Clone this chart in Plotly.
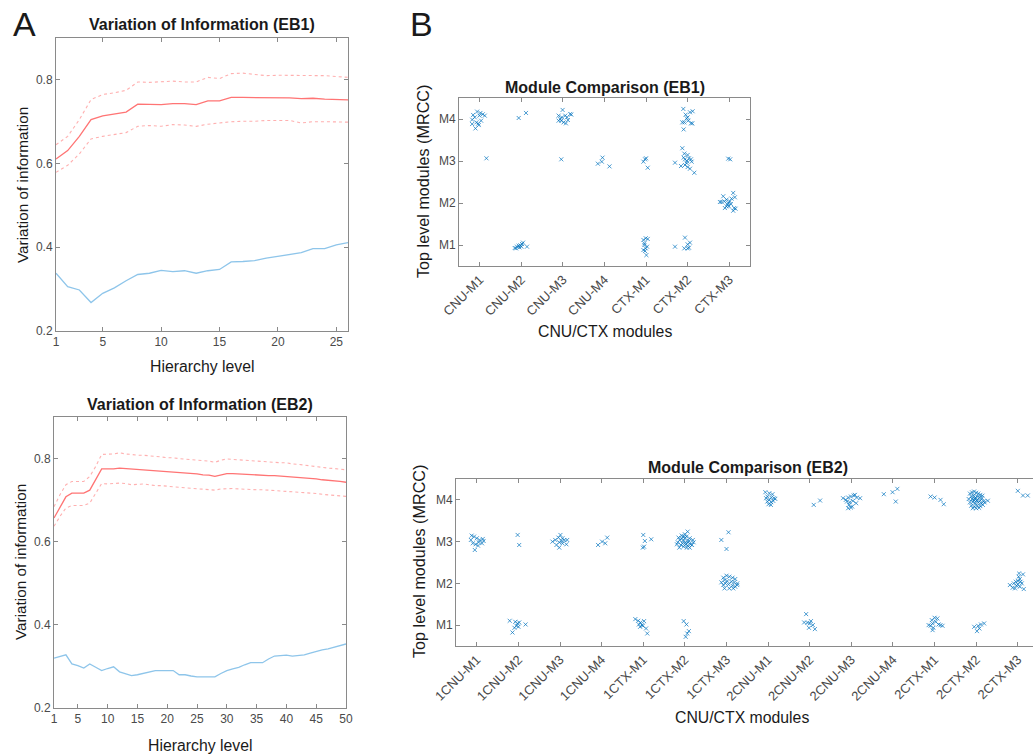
import plotly.graph_objects as go

W, H = 1033, 755

# ---------------- Panel A data ----------------
levels_eb1 = list(range(1, 27))
vi_mean_eb1 = [0.611, 0.631, 0.665, 0.705, 0.714, 0.718, 0.723, 0.742, 0.742, 0.741, 0.743, 0.743, 0.741,
               0.750, 0.750, 0.758, 0.758, 0.758, 0.757, 0.757, 0.757, 0.755, 0.756, 0.754, 0.753, 0.752]
vi_upper_eb1 = [0.645, 0.665, 0.705, 0.753, 0.765, 0.769, 0.775, 0.795, 0.794, 0.796, 0.797, 0.795, 0.795,
                0.806, 0.803, 0.815, 0.816, 0.813, 0.810, 0.811, 0.811, 0.811, 0.811, 0.810, 0.808, 0.806]
vi_lower_eb1 = [0.579, 0.596, 0.623, 0.659, 0.665, 0.670, 0.674, 0.689, 0.691, 0.689, 0.693, 0.692, 0.689,
                0.694, 0.697, 0.700, 0.701, 0.701, 0.703, 0.703, 0.703, 0.697, 0.700, 0.700, 0.699, 0.699]
vi_between_eb1 = [0.338, 0.306, 0.298, 0.268, 0.290, 0.303, 0.320, 0.335, 0.338, 0.345, 0.342, 0.344, 0.338,
                  0.344, 0.347, 0.365, 0.366, 0.368, 0.374, 0.378, 0.383, 0.387, 0.397, 0.397, 0.406, 0.411]

levels_eb2 = list(range(1, 51))
vi_mean_eb2 = [0.657, 0.681, 0.708, 0.717, 0.717, 0.717, 0.724, 0.749, 0.775, 0.775, 0.775, 0.777, 0.776,
               0.774, 0.773, 0.773, 0.772, 0.771, 0.769, 0.768, 0.767, 0.766, 0.766, 0.765, 0.763, 0.761,
               0.760, 0.757, 0.761, 0.764, 0.764, 0.763, 0.762, 0.761, 0.761, 0.760, 0.759, 0.759, 0.758,
               0.757, 0.756, 0.754, 0.753, 0.752, 0.751, 0.749, 0.748, 0.746, 0.745, 0.743]
vi_upper_eb2 = [0.684, 0.713, 0.737, 0.745, 0.745, 0.745, 0.757, 0.781, 0.810, 0.811, 0.811, 0.814, 0.811,
                0.810, 0.808, 0.808, 0.807, 0.806, 0.804, 0.802, 0.802, 0.800, 0.799, 0.798, 0.796, 0.795,
                0.794, 0.791, 0.796, 0.799, 0.798, 0.796, 0.795, 0.794, 0.793, 0.792, 0.791, 0.791, 0.790,
                0.790, 0.787, 0.786, 0.784, 0.783, 0.781, 0.778, 0.777, 0.776, 0.775, 0.773]
vi_lower_eb2 = [0.637, 0.661, 0.681, 0.687, 0.687, 0.687, 0.693, 0.716, 0.740, 0.739, 0.740, 0.741, 0.740,
                0.737, 0.738, 0.739, 0.737, 0.735, 0.735, 0.733, 0.732, 0.731, 0.730, 0.729, 0.728, 0.727,
                0.725, 0.724, 0.727, 0.728, 0.728, 0.727, 0.726, 0.725, 0.725, 0.725, 0.724, 0.724, 0.723,
                0.722, 0.720, 0.719, 0.718, 0.717, 0.716, 0.714, 0.713, 0.712, 0.711, 0.709]
vi_between_eb2 = [0.320, 0.324, 0.328, 0.306, 0.302, 0.296, 0.306, 0.298, 0.290, 0.295, 0.299, 0.287, 0.282,
                  0.278, 0.280, 0.283, 0.287, 0.290, 0.290, 0.290, 0.290, 0.280, 0.280, 0.277, 0.275, 0.275,
                  0.275, 0.275, 0.283, 0.290, 0.294, 0.298, 0.304, 0.309, 0.309, 0.309, 0.318, 0.325, 0.326,
                  0.327, 0.325, 0.327, 0.328, 0.332, 0.336, 0.340, 0.342, 0.346, 0.351, 0.354]

# ---------------- Panel B data ----------------
module_labels = ["M1", "M2", "M3", "M4"]
cats_eb1 = ["CNU-M1", "CNU-M2", "CNU-M3", "CNU-M4", "CTX-M1", "CTX-M2", "CTX-M3"]
cats_eb2 = ["1CNU-M1", "1CNU-M2", "1CNU-M3", "1CNU-M4", "1CTX-M1", "1CTX-M2", "1CTX-M3",
            "2CNU-M1", "2CNU-M2", "2CNU-M3", "2CNU-M4", "2CTX-M1", "2CTX-M2", "2CTX-M3"]

# (category index, MRCC module index) -> jittered offsets (dx, dy)
groups_eb1 = {
    (1, 4): [(-0.064, 0.176), (-0.16, 0.096), (0.016, 0.144), (0.072, 0.112), (-0.008, 0.08), (-0.184, -0.016),
             (-0.08, -0.08), (0.032, -0.04), (-0.04, -0.112), (-0.184, -0.12), (-0.104, -0.224), (-0.024, -0.144),
             (0.12, 0.08), (-0.12, 0.04)],
    (1, 3): [(0.16, 0.064)],
    (2, 4): [(-0.064, 0.024), (0.112, 0.144)],
    (2, 1): [(-0.16, -0.072), (-0.104, -0.04), (-0.064, -0.016), (-0.024, -0.008), (0.016, 0.024), (0.04, 0.056),
             (-0.048, -0.056), (0.136, -0.04), (-0.128, -0.08), (0.0, -0.04)],
    (3, 4): [(-0.008, 0.216), (-0.104, 0.08), (-0.064, 0.0), (0.056, 0.08), (0.096, 0.04), (-0.04, -0.04),
             (0.016, -0.08), (0.072, -0.104), (0.176, 0.12), (0.2, 0.104), (-0.104, -0.04), (-0.024, 0.04),
             (0.12, -0.024)],
    (3, 3): [(-0.04, 0.04)],
    (4, 3): [(-0.16, -0.064), (-0.064, -0.016), (-0.048, 0.08), (0.12, -0.128)],
    (5, 3): [(-0.064, -0.016), (-0.024, 0.04), (0.0, 0.064), (0.04, -0.16)],
    (5, 1): [(-0.064, 0.12), (-0.008, 0.16), (0.04, 0.144), (-0.04, 0.0), (-0.008, -0.08), (-0.064, -0.12),
             (-0.024, -0.144), (0.008, -0.24), (0.024, -0.04), (-0.04, 0.04)],
    (6, 4): [(-0.104, 0.24), (-0.048, 0.104), (0.056, 0.16), (0.12, 0.184), (0.0, 0.04), (-0.08, -0.08),
             (0.016, -0.04), (0.08, -0.104), (-0.128, -0.08), (-0.096, -0.248), (-0.024, 0.016), (0.112, -0.104)],
    (6, 3): [(-0.128, 0.304), (-0.08, 0.176), (0.0, 0.144), (0.032, 0.064), (-0.064, 0.04), (-0.016, 0.0),
             (0.08, 0.04), (-0.16, -0.12), (-0.064, -0.096), (0.0, -0.144), (0.056, -0.184), (0.16, -0.28),
             (-0.304, -0.04), (-0.024, -0.048), (0.096, -0.016), (-0.096, 0.08)],
    (6, 1): [(-0.304, -0.04), (-0.064, 0.176), (0.0, 0.016), (0.056, 0.056), (-0.08, -0.08), (0.0, -0.08),
             (0.032, -0.064)],
    (7, 3): [(-0.024, 0.056), (0.024, 0.04)],
    (7, 2): [(-0.184, 0.024), (-0.144, 0.16), (-0.224, 0.024), (-0.064, 0.08), (-0.024, 0.0), (0.016, 0.04),
             (0.056, 0.104), (0.096, 0.24), (0.136, 0.136), (-0.104, -0.12), (-0.04, -0.04), (-0.008, -0.08),
             (0.04, -0.024), (0.12, -0.12), (0.096, -0.184), (0.152, -0.136), (-0.064, -0.08), (-0.12, 0.04)],
}

groups_eb2 = {
    (1, 3): [(-0.124, 0.144), (-0.067, 0.12), (0.0, 0.08), (0.067, 0.04), (0.143, 0.064), (-0.096, -0.04),
             (-0.029, -0.064), (0.048, -0.016), (0.124, -0.04), (-0.048, -0.2), (0.029, -0.096), (-0.143, 0.04),
             (0.163, 0.016)],
    (2, 3): [(-0.019, 0.16), (0.019, -0.08)],
    (2, 1): [(-0.21, 0.104), (-0.076, 0.08), (-0.019, 0.04), (-0.048, -0.016), (-0.096, -0.064), (-0.143, -0.176),
             (0.019, 0.064), (0.172, 0.016), (0.0, -0.04)],
    (3, 3): [(-0.182, 0.0), (-0.115, 0.04), (-0.038, 0.096), (0.01, 0.16), (0.057, 0.08), (0.105, 0.04),
             (0.172, 0.04), (-0.019, -0.016), (0.057, -0.04), (0.153, -0.064), (-0.019, -0.144), (-0.086, -0.08),
             (0.038, 0.016)],
    (4, 3): [(-0.086, -0.08), (0.01, 0.0), (0.086, -0.04), (0.134, 0.096)],
    (5, 3): [(0.0, 0.16), (0.038, 0.016), (0.191, 0.056), (-0.01, -0.144), (0.019, -0.12)],
    (5, 1): [(-0.191, 0.144), (-0.124, 0.104), (-0.067, 0.064), (0.019, 0.096), (-0.029, 0.0), (-0.105, 0.016),
             (0.067, -0.08), (0.096, -0.2), (-0.01, -0.016), (-0.076, -0.04)],
    (6, 3): [(-0.153, 0.096), (-0.076, 0.144), (0.0, 0.176), (0.067, 0.24), (0.038, 0.12), (0.115, 0.08),
             (0.191, 0.04), (0.21, -0.016), (0.134, -0.064), (0.067, -0.096), (-0.029, -0.12), (-0.096, -0.08),
             (-0.172, -0.016), (-0.124, 0.04), (-0.038, 0.016), (0.019, -0.016), (0.096, 0.016), (0.0, 0.08),
             (-0.057, -0.04), (0.048, -0.144), (0.115, -0.144), (0.172, -0.08), (-0.191, -0.064), (0.019, -0.064),
             (-0.019, 0.12), (0.076, -0.016), (-0.134, -0.144), (-0.076, 0.08)],
    (6, 1): [(-0.029, 0.096), (0.038, 0.016), (0.096, -0.144), (0.057, -0.2), (0.019, -0.28)],
    (7, 3): [(-0.124, 0.04), (0.048, 0.224), (0.0, -0.176)],
    (7, 2): [(-0.076, 0.136), (0.0, 0.184), (0.067, 0.16), (0.143, 0.136), (0.21, 0.104), (-0.048, 0.08),
             (0.019, 0.056), (0.115, 0.04), (0.182, 0.024), (0.258, 0.0), (-0.029, 0.0), (0.048, -0.024),
             (-0.076, -0.04), (0.143, -0.056), (0.21, -0.08), (-0.048, -0.12), (0.067, -0.12), (0.258, -0.04),
             (-0.124, 0.024), (0.163, -0.12)],
    (8, 4): [(-0.067, 0.184), (0.029, 0.16), (0.105, 0.136), (-0.019, 0.08), (0.076, 0.056), (0.143, 0.04),
             (0.029, 0.0), (-0.019, -0.04), (0.076, -0.056), (0.124, -0.024), (0.01, -0.104), (0.067, -0.12),
             (-0.048, 0.04), (0.172, 0.024)],
    (9, 4): [(0.096, -0.12), (0.249, -0.016)],
    (9, 1): [(-0.086, 0.264), (-0.134, 0.064), (-0.057, 0.056), (0.029, 0.096), (0.076, 0.0), (-0.019, -0.064),
             (0.124, -0.096), (0.0, 0.04)],
    (10, 4): [(-0.2, 0.04), (-0.076, 0.056), (-0.01, 0.08), (0.057, 0.104), (0.134, 0.056), (0.21, 0.04),
              (-0.105, -0.04), (-0.038, -0.056), (0.038, -0.024), (0.115, -0.08), (-0.057, -0.12), (0.019, -0.16),
              (-0.076, -0.2), (-0.01, -0.184), (0.086, 0.12), (-0.134, 0.0)],
    (11, 4): [(-0.22, 0.136), (-0.01, 0.184), (0.105, 0.264), (0.067, -0.04)],
    (12, 4): [(-0.096, 0.08), (0.0, 0.056), (0.143, 0.0), (0.22, -0.104)],
    (12, 1): [(-0.143, 0.0), (-0.067, 0.12), (0.0, 0.176), (0.067, 0.16), (-0.048, 0.04), (0.029, 0.08),
              (0.096, 0.016), (-0.029, -0.064), (-0.096, -0.016), (0.143, 0.0), (0.191, -0.016), (-0.048, -0.12)],
    (13, 4): [(-0.15, 0.15), (-0.1, 0.18), (-0.05, 0.2), (0.0, 0.17), (0.05, 0.15), (0.1, 0.12), (0.15, 0.1),
              (-0.12, 0.08), (-0.06, 0.1), (0.02, 0.08), (0.08, 0.06), (0.14, 0.04), (-0.18, 0.02), (-0.1, 0.02),
              (-0.03, 0.03), (0.03, 0.0), (0.1, -0.02), (0.18, -0.03), (0.28, -0.02), (-0.15, -0.06),
              (-0.08, -0.05), (-0.02, -0.08), (0.05, -0.06), (0.12, -0.08), (0.2, -0.06), (-0.12, -0.14),
              (-0.05, -0.16), (0.02, -0.14), (0.1, -0.15), (0.16, -0.12), (-0.08, -0.2), (0.0, -0.2),
              (0.07, -0.19), (-0.02, 0.05), (0.01, -0.02), (-0.05, -0.01)],
    (13, 1): [(-0.048, -0.04), (0.048, -0.016), (0.076, -0.08), (0.019, -0.144), (0.191, 0.04), (0.115, 0.016)],
    (14, 4): [(0.0, 0.216), (0.124, 0.104), (0.239, 0.104)],
    (14, 2): [(-0.191, -0.04), (-0.096, 0.0), (-0.048, 0.04), (0.0, 0.056), (0.048, 0.104), (0.029, 0.24),
              (0.124, 0.216), (0.096, 0.0), (-0.029, -0.056), (0.048, -0.08), (-0.067, -0.12), (0.143, -0.136),
              (0.0, -0.024), (-0.124, -0.104), (0.067, 0.04), (0.019, 0.16)],
}

# ---------------- styling ----------------
FONT = "Liberation Sans, Arial, Helvetica, sans-serif"
AXC = "#8a8a8a"
TXC = "#4a4a4a"
RED = "#ff7474"
RED_LIGHT = "#ffb0b0"
BLUE_LINE = "#8ec5ea"
MARK = "rgba(0,114,189,0.7)"


def dom(l, r, t, b):
    # page-pixel box -> figure domain fractions
    return [max(0, l / W), min(1, r / W)], [1 - b / H, 1 - t / H]


fig = go.Figure()


def add_vi(xa, ya, lv, mean, up, lo, bt):
    fig.add_trace(go.Scatter(x=lv, y=up, mode="lines", line=dict(color=RED_LIGHT, width=1.1, dash="dot"),
                             xaxis=xa, yaxis=ya, showlegend=False))
    fig.add_trace(go.Scatter(x=lv, y=lo, mode="lines", line=dict(color=RED_LIGHT, width=1.1, dash="dot"),
                             xaxis=xa, yaxis=ya, showlegend=False))
    fig.add_trace(go.Scatter(x=lv, y=mean, mode="lines", line=dict(color=RED, width=1.3),
                             xaxis=xa, yaxis=ya, showlegend=False))
    fig.add_trace(go.Scatter(x=lv, y=bt, mode="lines", line=dict(color=BLUE_LINE, width=1.3),
                             xaxis=xa, yaxis=ya, showlegend=False))


def add_groups(xa, ya, groups):
    xs, ys = [], []
    for (c, m), pts in groups.items():
        for dx, dy in pts:
            xs.append(c + dx)
            ys.append(m + dy)
    fig.add_trace(go.Scatter(x=xs, y=ys, mode="markers",
                             marker=dict(symbol="x-thin-open", size=4, color=MARK,
                                         line=dict(width=1, color=MARK)),
                             xaxis=xa, yaxis=ya, showlegend=False))


add_vi("x", "y", levels_eb1, vi_mean_eb1, vi_upper_eb1, vi_lower_eb1, vi_between_eb1)
add_vi("x2", "y2", levels_eb2, vi_mean_eb2, vi_upper_eb2, vi_lower_eb2, vi_between_eb2)
add_groups("x3", "y3", groups_eb1)
add_groups("x4", "y4", groups_eb2)

common = dict(showline=True, linecolor=AXC, linewidth=1, ticks="inside", ticklen=4, tickcolor=AXC,
              showgrid=False, zeroline=False, automargin=False,
              tickfont=dict(family=FONT, size=12, color=TXC), fixedrange=True)
rot_font = dict(family=FONT, size=13, color=TXC)

d1x, d1y = dom(56, 348, 38, 331)
d2x, d2y = dom(54, 346, 417, 708)
d3x, d3y = dom(459, 750, 98, 266)
d4x, d4y = dom(456, 1033, 479, 646)

px_per_cat = (1017 - 476) / 13.0
x4max = 0.5 + (1033 - 456) / px_per_cat

fig.update_layout(
    width=W, height=H, margin=dict(l=0, r=0, t=0, b=0, pad=0, autoexpand=False),
    paper_bgcolor="white", plot_bgcolor="white", hovermode=False,
    font=dict(family=FONT, color=TXC),
    xaxis=dict(domain=d1x, anchor="y", range=[1, 26], tickvals=[1, 5, 10, 15, 20, 25], mirror="ticks", **common),
    yaxis=dict(domain=d1y, anchor="x", range=[0.2, 0.9], tickvals=[0.2, 0.4, 0.6, 0.8], tickformat=".1f",
               mirror="ticks", **common),
    xaxis2=dict(domain=d2x, anchor="y2", range=[1, 50], tickvals=[1, 5, 10, 15, 20, 25, 30, 35, 40, 45, 50],
                mirror="ticks", **common),
    yaxis2=dict(domain=d2y, anchor="x2", range=[0.2, 0.9], tickvals=[0.2, 0.4, 0.6, 0.8], tickformat=".1f",
                mirror="ticks", **common),
    xaxis3=dict(domain=d3x, anchor="y3", range=[0.5, 7.5], tickvals=list(range(1, 8)), ticktext=cats_eb1,
                tickangle=-45, mirror="ticks", **common),
    yaxis3=dict(domain=d3y, anchor="x3", range=[0.5, 4.5], tickvals=[1, 2, 3, 4], ticktext=module_labels,
                mirror="ticks", **common),
    xaxis4=dict(domain=d4x, anchor="y4", range=[0.5, x4max], tickvals=list(range(1, 15)), ticktext=cats_eb2,
                tickangle=-45, mirror="ticks", **common),
    yaxis4=dict(domain=d4y, anchor="x4", range=[0.5, 4.5], tickvals=[1, 2, 3, 4], ticktext=module_labels,
                mirror=False, **common),
)
fig.update_layout(xaxis3_tickfont=rot_font, xaxis4_tickfont=rot_font)


def ann(text, x, y, size, bold=False, angle=0, color="#1a1a1a"):
    fig.add_annotation(text=("<b>%s</b>" % text) if bold else text, x=x / W, y=1 - y / H,
                       xref="paper", yref="paper", showarrow=False, textangle=angle,
                       xanchor="center", yanchor="middle",
                       font=dict(family=FONT, size=size, color=color))


ann("A", 24, 24, 34)
ann("B", 421, 24, 34)
ann("Variation of Information (EB1)", 202, 25, 16, bold=True)
ann("Variation of information", 22, 185, 15.3, angle=-90)
ann("Hierarchy level", 202, 366, 15.8)
ann("Variation of Information (EB2)", 200, 404, 16, bold=True)
ann("Variation of information", 20, 562, 15.3, angle=-90)
ann("Hierarchy level", 200, 745, 15.8)
ann("Module Comparison (EB1)", 605, 87, 16, bold=True)
ann("Top level modules (MRCC)", 423, 182, 16.2, angle=-90)
ann("CNU/CTX modules", 605, 331, 15.8)
ann("Module Comparison (EB2)", 748, 467, 16, bold=True)
ann("Top level modules (MRCC)", 419, 562, 16.2, angle=-90)
ann("CNU/CTX modules", 742, 717, 15.8)

# remove the browser's default 8px body margin so the figure sits at the page origin
fig.write_html("out.html", config={"displayModeBar": False, "staticPlot": True},
               post_script="document.body.style.margin='0px';document.body.style.overflow='hidden';")
